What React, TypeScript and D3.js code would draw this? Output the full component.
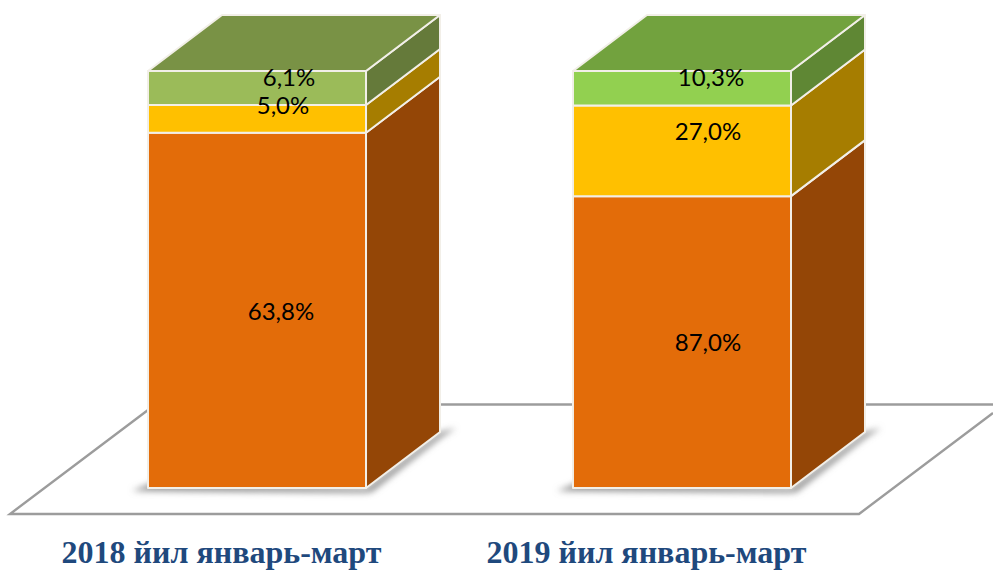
import React from "react";
import * as d3 from "d3";

const categories = ["2018 йил январь-март", "2019 йил январь-март"];
const seriesNames = ["orange", "yellow", "green"];
const orangeValues = [63.8, 87.0];
const yellowValues = [5.0, 27.0];
const greenValues = [6.1, 10.3];
const orangeColors = ["#e36c09", "#e36c09"];
const yellowColors = ["#ffc000", "#ffc000"];
const greenColors = ["#9bbb59", "#92d050"];

const W = 993, H = 570;
const x = d3.scaleBand().domain(categories).range([148, 791]).paddingInner(0.487).paddingOuter(0);
const y = d3.scaleLinear().domain([0, 1]).range([488, 71]);
const DX = 74, DY = -56;

const rows = categories.map((c, i) => ({ c, orange: orangeValues[i], yellow: yellowValues[i], green: greenValues[i] }));
const stacked = d3.stack<any>().keys(seriesNames).offset(d3.stackOffsetExpand)(rows);
const fills = [orangeColors, yellowColors, greenColors];
const values = [orangeValues, yellowValues, greenValues];

// label nudges relative to each segment's centre, [series][category]
const nudgeX = [[24, 26], [26, 26], [32, 29]];
const nudgeY = [[1, 1], [-13, -19.5], [-10.5, -10.5]];

const shade = (c: string, k: number) => {
  const r = d3.rgb(c);
  return d3.rgb(r.r * k, r.g * k, r.b * k).formatHex();
};
const poly = (pts: number[][]) => (d3.line()(pts as any) as string) + "Z";
const fmt = (v: number) => d3.format(".1f")(v).replace(".", ",") + "%";

export default function App() {
  const bw = x.bandwidth();
  return (
    <svg width={W} height={H} viewBox={`0 0 ${W} ${H}`} style={{ position: "absolute", left: 0, top: 0, display: "block", background: "#fff" }}>
      <defs>
        <filter id="blur" x="-20%" y="-20%" width="140%" height="140%"><feGaussianBlur stdDeviation="3" /></filter>
      </defs>
      {/* floor */}
      <g fill="none" stroke="#9c9c9c" strokeWidth={2.4}>
        <path d="M148,410 L10,514 L859,514 L993,413" />
        <path d="M441,404.5 H573" />
        <path d="M865,404.5 H993" />
      </g>
      {categories.map((c) => {
        const x0 = x(c)!, x1 = x0 + bw, b = y(0);
        return (
          <g key={c}>
            <path
              d={poly([[x0 - 16, b + 3], [x0 + 6, b - 6], [x1, b], [x1 + DX, b + DY], [x1 + DX + 16, b + DY - 4], [x1 + DX + 2, b + DY + 5], [x1 + 6, b + 4], [x1 - 2, b + 5]])}
              fill="#969696"
              filter="url(#blur)"
            />
          </g>
        );
      })}
      {categories.map((c, ci) => {
        const x0 = x(c)!, x1 = x0 + bw;
        return (
          <g key={c} stroke="#f2efe8" strokeWidth={2} strokeLinejoin="round">
            {stacked.map((s, si) => {
              const yb = y(s[ci][0]), yt = y(s[ci][1]);
              const col = fills[si][ci];
              return (
                <g key={s.key}>
                  <rect x={x0} y={yt} width={bw} height={yb - yt} fill={col} />
                  <path d={poly([[x1, yb], [x1 + DX, yb + DY], [x1 + DX, yt + DY], [x1, yt]])} fill={shade(col, 0.65)} />
                  {si === stacked.length - 1 && (
                    <path d={poly([[x0, yt], [x1, yt], [x1 + DX, yt + DY], [x0 + DX, yt + DY]])} fill={shade(col, 0.78)} />
                  )}
                </g>
              );
            })}
          </g>
        );
      })}
      {categories.map((c, ci) => (
        <g key={c}>
          {stacked.map((s, si) => (
            <text
              key={s.key}
              x={x(c)! + bw / 2 + nudgeX[si][ci]}
              y={(y(s[ci][0]) + y(s[ci][1])) / 2 + nudgeY[si][ci]}
              dy="0.35em"
              textAnchor="middle"
              fontFamily="Lato, 'Open Sans', sans-serif"
              fontSize={24}
              fill="#000"
            >
              {fmt(values[si][ci])}
            </text>
          ))}
          <text
            x={x(c)! + bw / 2 - 35.5}
            y={563}
            textAnchor="middle"
            fontFamily="'Liberation Serif', serif"
            fontWeight="bold"
            fontSize={32}
            fill="#1f497d"
          >
            {c}
          </text>
        </g>
      ))}
    </svg>
  );
}
